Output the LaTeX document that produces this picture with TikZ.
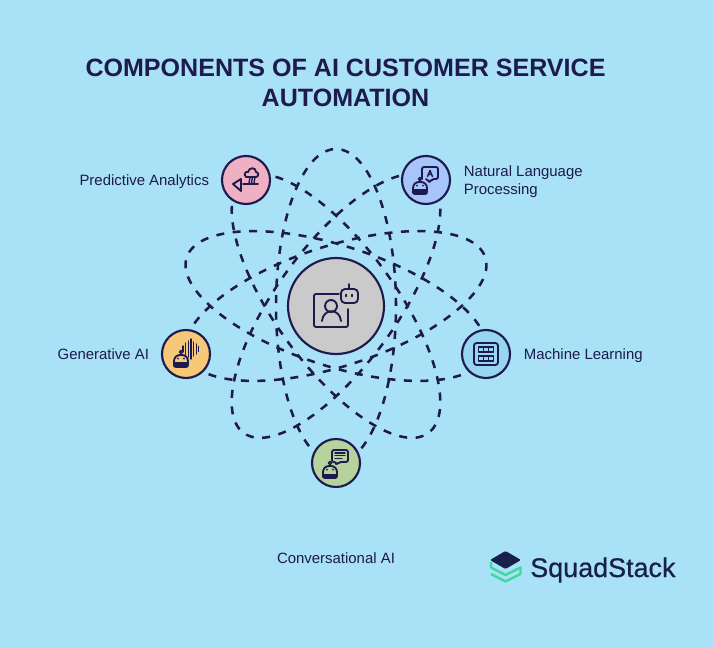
\documentclass[tikz,border=0pt]{standalone}
\usepackage{fontspec}
\setmainfont{Liberation Sans}
\newfontfamily\logofont[FakeBold=.6]{Liberation Sans}
\usepackage{tikz}
\usetikzlibrary{
  calc,
  positioning,
}
\definecolor{inkblue}{HTML}{1E1A4D}
\definecolor{skyback}{HTML}{A9E1F7}
\definecolor{logonavy}{HTML}{16204A}
\definecolor{logogreen}{HTML}{3FD8A0}
\definecolor{hubgray}{HTML}{CACACA}
\definecolor{predictivepink}{HTML}{EFB0C4}
\definecolor{languageblue}{HTML}{A5C5FB}
\definecolor{generativeyellow}{HTML}{F5C977}
\definecolor{learningblue}{HTML}{97D6F0}
\definecolor{conversationalgreen}{HTML}{B6D29D}
\tikzset{
  orbit/.style={draw=inkblue,line width=1.9pt,dash pattern=on 6pt off 6.4pt},
  hubnode/.style={circle,draw=inkblue,line width=1.6pt,fill=#1,minimum size=36pt,inner sep=0,outer sep=0},
  sidelabel/.style={text=inkblue,font=\fontsize{11.2}{13.5}\selectfont,inner sep=0,outer sep=0},
  oneline/.style={text height=10pt,text depth=1.2pt},
  icon/.style={draw=inkblue,line width=1.4pt,line cap=round,line join=round},
  thinicon/.style={draw=inkblue,line width=1.05pt,line cap=round,line join=round},
  smallbot/.pic={
    \draw[icon] (-7,9) [rounded corners=4.5] -- (-7,0) -- (7,0) [rounded corners=1.5] -- (7,12) -- (-7,12) -- cycle;
    \fill[inkblue] (-6.5,7.5) rectangle (6.5,11);
    \draw[thinicon] (0,-3) circle (1.7);
    \fill[inkblue] (-3,3.6) circle (1) (3,3.6) circle (1);
  },
}
\begin{document}
\begin{tikzpicture}[x=.75pt,y=-.75pt,node distance=9.75pt and 9.75pt]

        \fill[skyback] (0,0) rectangle (714,648);
        \useasboundingbox (0,0) rectangle (714,648);

        \coordinate (middle) at (336,306);
        \foreach \tilt in {270,198,126,54,342} {
          \draw[orbit,rotate around={\tilt:(middle)}] (middle) ellipse (157 and 60);
        }

        \node[hubnode=hubgray,minimum size=72pt] (hub) at (336,306) {};
        \node[hubnode=predictivepink] (predictive) at (246,180) {};
        \node[hubnode=languageblue] (language) at (426,180) {};
        \node[hubnode=generativeyellow] (generative) at (186,354) {};
        \node[hubnode=learningblue] (learning) at (486,354) {};
        \node[hubnode=conversationalgreen] (conversational) at (336,463) {};

        \node[sidelabel,oneline] (predictivetext) [left=of predictive] {Predictive Analytics};
        \node[sidelabel,align=left,xshift=.7pt,yshift=-1pt] (languagetext) [right=of language] {Natural Language\\Processing};
        \node[sidelabel,oneline] (generativetext) [left=of generative] {Generative AI};
        \node[sidelabel,oneline,xshift=.7pt] (learningtext) [right=of learning] {Machine Learning};
        \node[sidelabel,oneline] (conversationaltext) [below=47pt of conversational] {Conversational AI};

        \node[text=inkblue,font=\bfseries\fontsize{18.8}{22.5}\selectfont,align=center,inner sep=0] (title) at (345.5,83) {COMPONENTS OF AI CUSTOMER SERVICE\\AUTOMATION};

        \begin{scope}[shift={(hub)}]
          \draw[icon,rounded corners=1.5] (3,-12) -- (-22,-12) -- (-22,21) -- (12,21) -- (12,3);
          \draw[icon] (-5,0) circle (6);
          \draw[icon] (-14,15) .. controls (-13,2) and (4,2) .. (5,15);
          \draw[icon,rounded corners=3] (5,-17) rectangle (22,-3);
          \draw[icon] (13,-17) -- (13,-22);
          \draw[icon] (10,-11.5) -- (10,-9.5) (16,-11.5) -- (16,-9.5);
        \end{scope}

        \begin{scope}[shift={(predictive)}]
          \draw[icon] (-5,-1) -- (-13,4) -- (-5,11) -- cycle;
          \draw[icon] (-3,4) -- (12,4);
          \draw[icon] (0,-3) .. controls (-3,-6) and (0,-9) .. (2,-8) .. controls (3,-13) and (10,-13) .. (10,-8) .. controls (13,-8) and (13,-3) .. (10,-3) -- cycle;
          \draw[thinicon] (4,-3) -- (3,3) (6.5,-3) -- (5.5,3) (9,-3) -- (8,3);
        \end{scope}

        \pic at ($(language)+(-6,2)$) {smallbot};
        \begin{scope}[shift={(language)}]
          \draw[icon,rounded corners=1.5] (-4,-1) -- (-4,-13) -- (12,-13) -- (12,-1) -- (6,-1) -- (3,3) -- (2,-1) -- (0,-1);
          \draw[thinicon] (1.5,-3.5) -- (4,-9.5) -- (6.5,-3.5) (2.5,-5.5) -- (5.5,-5.5);
        \end{scope}

        \pic at ($(generative)+(-5,1)$) {smallbot};
        \begin{scope}[shift={(generative)}]
          \foreach \barx/\barh in {-3/3,-.3/6,2.4/8,5/10,7.7/7,10.4/5,12.6/2.5} {
            \draw[thinicon] (\barx,-5-\barh) -- (\barx,-5+\barh);
          }
        \end{scope}

        \begin{scope}[shift={(learning)}]
          \draw[icon,rounded corners=2] (-12,-11) rectangle (12,11);
          \foreach \celly in {-7,2} {
            \draw[thinicon] (-7.5,\celly) rectangle +(15,5);
            \draw[thinicon] (-2.5,\celly) -- +(0,5) (2.5,\celly) -- +(0,5);
          }
        \end{scope}

        \pic at ($(conversational)+(-6,3)$) {smallbot};
        \begin{scope}[shift={(conversational)}]
          \draw[icon,rounded corners=1.5] (-4,-2) -- (-4,-13) -- (12,-13) -- (12,-1) -- (3,-1) -- (0,2) -- (0,-1) -- (-3,-1);
          \draw[thinicon] (-1,-10) -- (9,-10) (-1,-7.2) -- (9,-7.2) (-1,-4.4) -- (6,-4.4);
        \end{scope}

        \node[text=logonavy,font=\logofont\fontsize{20.2}{22}\selectfont,anchor=base west,inner sep=0] (logotext) at (530,577) {SquadStack};
        \fill[logonavy,rounded corners=1] (490,560) -- (505.5,551) -- (521,560) -- (505.5,569) -- cycle;
        \draw[logogreen,line width=1.8pt,line join=round] (491,562) -- (491,567.5) -- (505.5,575) -- (520.5,567.5) -- (520.5,574) -- (505.5,581.5) -- (491,574);

      \end{tikzpicture}
\end{document}
